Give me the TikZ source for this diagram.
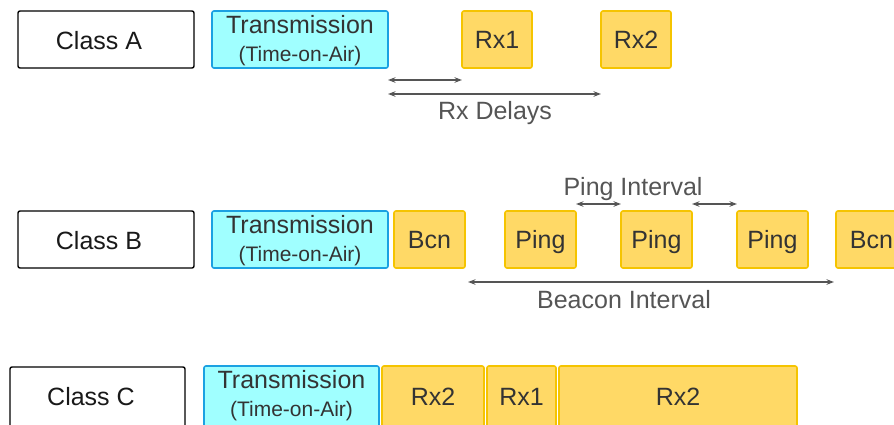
\documentclass[tikz,border=0pt]{standalone}
\usepackage{fontspec}
\setmainfont{Liberation Sans}
\usetikzlibrary{arrows.meta}

\definecolor{airfill}{HTML}{A0FFFF}
\definecolor{airline}{HTML}{1BA1E2}
\definecolor{slotfill}{HTML}{FFD966}
\definecolor{slotline}{HTML}{F5C400}
\definecolor{ink}{HTML}{333333}
\definecolor{dimink}{HTML}{555555}

\tikzset{
  cell/.style={anchor=north west, inner sep=0pt, outer sep=0pt,
               minimum height=57pt, rounded corners=2pt},
  classbox/.style={cell, draw=black, line width=1.4pt, fill=white},
  airbox/.style={cell, draw=airline, line width=1.6pt, fill=airfill},
  slotbox/.style={cell, draw=slotline, line width=1.6pt, fill=slotfill},
  big/.style={anchor=base, inner sep=0pt, text=ink,
              font=\fontsize{25pt}{30pt}\selectfont},
  small/.style={anchor=base, inner sep=0pt, text=ink,
                font=\fontsize{21pt}{25pt}\selectfont},
  classlabel/.style={big, text=black!90},
  dimlabel/.style={big, text=dimink},
  span/.style={draw=dimink, line width=1.5pt,
               {Stealth[length=7.5pt,width=5.5pt]}-{Stealth[length=7.5pt,width=5.5pt]}}
}

\begin{document}
\begin{tikzpicture}[x=1pt,y=-1pt]
\useasboundingbox (0,0) rectangle (894,424);
\clip (0,0) rectangle (894,424);

% ---------- Class A ----------
\node[classbox, minimum width=176pt] (clsA) at (18,11) {};
\node[airbox, minimum width=176pt] (txA) at (212,11) {};
\node[slotbox, minimum width=70pt] (rxoneA) at (462,11) {};
\node[slotbox, minimum width=70pt] (rxtwoA) at (601,11) {};

\node[classlabel] (clsAt) at (99,49) {Class A};
\node[big] (txAt) at (300,33) {Transmission};
\node[small] (txAs) at (300,61) {(Time-on-Air)};
\node[big] (rxoneAt) at (497,48) {Rx1};
\node[big] (rxtwoAt) at (636,48) {Rx2};

\draw[span] ([yshift=-12pt]txA.south east) -- ([yshift=-12pt]rxoneA.south west);
\draw[span] ([yshift=-26pt]txA.south east) -- ([yshift=-26pt]rxtwoA.south west);
\node[dimlabel] (delays) at (495,119) {Rx Delays};

% ---------- Class B ----------
\node[classbox, minimum width=176pt] (clsB) at (18,211) {};
\node[airbox, minimum width=176pt] (txB) at (212,211) {};
\node[slotbox, minimum width=71pt] (bcnB) at (394,211) {};
\node[slotbox, minimum width=71pt] (pingB1) at (505,211) {};
\node[slotbox, minimum width=71pt] (pingB2) at (621,211) {};
\node[slotbox, minimum width=71pt] (pingB3) at (737,211) {};
\node[slotbox, minimum width=71pt] (bcnBb) at (836,211) {};

\node[classlabel] (clsBt) at (99,249) {Class B};
\node[big] (txBt) at (300,233) {Transmission};
\node[small] (txBs) at (300,261) {(Time-on-Air)};
\node[big] (bcnBt) at (429.5,248) {Bcn};
\node[big] (pingB1t) at (540.5,248) {Ping};
\node[big] (pingB2t) at (656.5,248) {Ping};
\node[big] (pingB3t) at (772.5,248) {Ping};
\node[big] (bcnBbt) at (871.5,248) {Bcn};

\draw[span] ([yshift=7pt]pingB1.north east) -- ([yshift=7pt]pingB2.north west);
\draw[span] ([yshift=7pt]pingB2.north east) -- ([yshift=7pt]pingB3.north west);
\node[dimlabel] (pingint) at (633,195) {Ping Interval};

\draw[span] ([shift={(3pt,-14pt)}]bcnB.south east) -- ([shift={(-2pt,-14pt)}]bcnBb.south west);
\node[dimlabel] (bcnint) at (624,308) {Beacon Interval};

% ---------- Class C ----------
\node[classbox, minimum width=175pt, minimum height=62pt] (clsC) at (10,367) {};
\node[airbox, minimum width=175pt, minimum height=62pt] (txC) at (204,366) {};
\node[slotbox, minimum width=102pt, minimum height=62pt] (rxtwoC) at (382,366) {};
\node[slotbox, minimum width=69pt, minimum height=62pt] (rxoneC) at (487,366) {};
\node[slotbox, minimum width=238pt, minimum height=62pt] (rxtwoCb) at (559,366) {};

\node[classlabel] (clsCt) at (91,405) {Class C};
\node[big] (txCt) at (291.5,388) {Transmission};
\node[small] (txCs) at (291.5,416) {(Time-on-Air)};
\node[big] (rxtwoCt) at (433,405) {Rx2};
\node[big] (rxoneCt) at (521.5,405) {Rx1};
\node[big] (rxtwoCbt) at (678,405) {Rx2};
\end{tikzpicture}
\end{document}
